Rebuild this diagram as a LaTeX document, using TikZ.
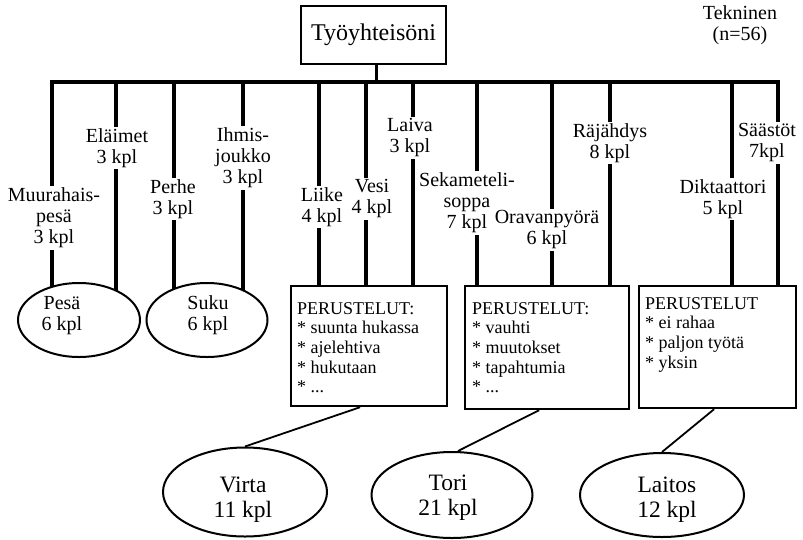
\documentclass[tikz,border=0pt]{standalone}
\usepackage{fontspec}
\setmainfont{Liberation Serif}
\usetikzlibrary{shapes.geometric,backgrounds}
\begin{document}
\begin{tikzpicture}[x=1pt,y=-1pt,
  conn/.style={line width=3.2pt, line cap=rect},
  lbl/.style={align=center, inner xsep=1pt, inner ysep=3pt, font=\fontsize{20}{21}\selectfont},
  oval/.style={ellipse, draw, line width=2pt, fill=white, inner sep=0pt},
  bigoval/.style={oval},
  ovaltext/.style={align=center, inner sep=0pt, font=\fontsize{20}{21}\selectfont},
  bigovaltext/.style={align=center, inner sep=0pt, font=\fontsize{23.5}{25}\selectfont},
  notebox/.style={draw, line width=2.2pt, fill=white, inner sep=0pt, anchor=north west},
  notetext/.style={align=left, anchor=north west, inner sep=0pt, font=\fontsize{18}{19.7}\selectfont},
  link/.style={line width=1.8pt}]
\useasboundingbox (0,0) rectangle (803,539);

% root and group caption
\node[draw, line width=2.6pt, minimum width=145pt, minimum height=58pt, inner sep=0pt,
      font=\fontsize{24}{26}\selectfont] (root) at (373.5,35) {Työyhteisöni};
\node[lbl, inner sep=0pt] (group) at (740,25) {Tekninen\\(n=56)};

% metaphor labels
\node[lbl] (l1)  at (54,218)  {Muurahais-\\pesä\\3 kpl};
\node[lbl] (l2)  at (117,148) {Eläimet\\3 kpl};
\node[lbl] (l3)  at (173,199) {Perhe\\3 kpl};
\node[lbl] (l4)  at (243,158) {Ihmis-\\joukko\\3 kpl};
\node[lbl] (l5)  at (322,207) {Liike\\4 kpl};
\node[lbl] (l6)  at (372,199) {Vesi\\4 kpl};
\node[lbl] (l7)  at (410,138) {Laiva\\3 kpl};
\node[lbl] (l8)  at (467,203) {Sekameteli-\\soppa\\7 kpl};
\node[lbl] (l9)  at (547,230) {Oravanpyörä\\6 kpl};
\node[lbl] (l10) at (610,143) {Räjähdys\\8 kpl};
\node[lbl] (l11) at (723,199) {Diktaattori\\5 kpl};
\node[lbl] (l12) at (767,143) {Säästöt\\7kpl};

% small groups
\node[oval, minimum width=122pt, minimum height=74pt] (e1) at (79,320) {};
\node[ovaltext] (e1t) at (62,315.5) {Pesä\\6 kpl};
\node[oval, minimum width=121pt, minimum height=74pt] (e2) at (207,320) {};
\node[ovaltext] (e2t) at (208,315.5) {Suku\\6 kpl};

% reasoning boxes
\node[notebox, minimum width=156pt, minimum height=120pt] (b1) at (290,285) {};
\node[notetext] (b1t) at (297,302) {PERUSTELUT:\\* suunta hukassa\\* ajelehtiva\\* hukutaan\\* ...};
\node[notebox, minimum width=164pt, minimum height=123pt] (b2) at (464,285) {};
\node[notetext] (b2t) at (472,302) {PERUSTELUT:\\* vauhti\\* muutokset\\* tapahtumia\\* ...};
\node[notebox, minimum width=157pt, minimum height=122pt] (b3) at (638,285) {};
\node[notetext] (b3t) at (645,297) {PERUSTELUT\\* ei rahaa\\* paljon työtä\\* yksin};

% main groups
\node[oval, minimum width=164pt, minimum height=89pt] (e3) at (245,492) {};
\node[bigovaltext] (e3t) at (243,499.5) {Virta\\11 kpl};
\node[oval, minimum width=161pt, minimum height=86pt] (e4) at (452,495) {};
\node[bigovaltext] (e4t) at (448,497.5) {Tori\\21 kpl};
\node[oval, minimum width=164pt, minimum height=84pt] (e5) at (662,495) {};
\node[bigovaltext] (e5t) at (667,499.5) {Laitos\\12 kpl};

% branch points on the bar
\coordinate (t1)  at (52,82);
\coordinate (t2)  at (116,82);
\coordinate (t3)  at (174,82);
\coordinate (t4)  at (243,82);
\coordinate (t5)  at (319,82);
\coordinate (t6)  at (366,82);
\coordinate (t7)  at (413,82);
\coordinate (t8)  at (477,82);
\coordinate (t9)  at (552,82);
\coordinate (t10) at (610,82);
\coordinate (t11) at (732,82);
\coordinate (t12) at (778,82);

\begin{scope}[on background layer]
  \draw[conn] ([xshift=3pt]root.south) -- ([xshift=3pt]root.south |- t1);
  \draw[conn] (t1) -- (t12);
  \foreach \i/\target in {1/e1,2/e1,3/e2,4/e2,5/b1,6/b1,7/b1,8/b2,9/b2,10/b2,11/b3,12/b3}{
    \draw[conn] (t\i) -- (t\i |- l\i.north);
    \draw[conn] (t\i |- l\i.south) -- (t\i |- \target.center);
  }
  \draw[link] ([xshift=-9pt]b1.south) -- (e3.north);
  \draw[link] ([xshift=-8pt]b2.south) -- ([xshift=6pt]e4.north);
  \draw[link] ([xshift=-3.5pt]b3.south) -- (e5.north);
\end{scope}
\end{tikzpicture}
\end{document}
